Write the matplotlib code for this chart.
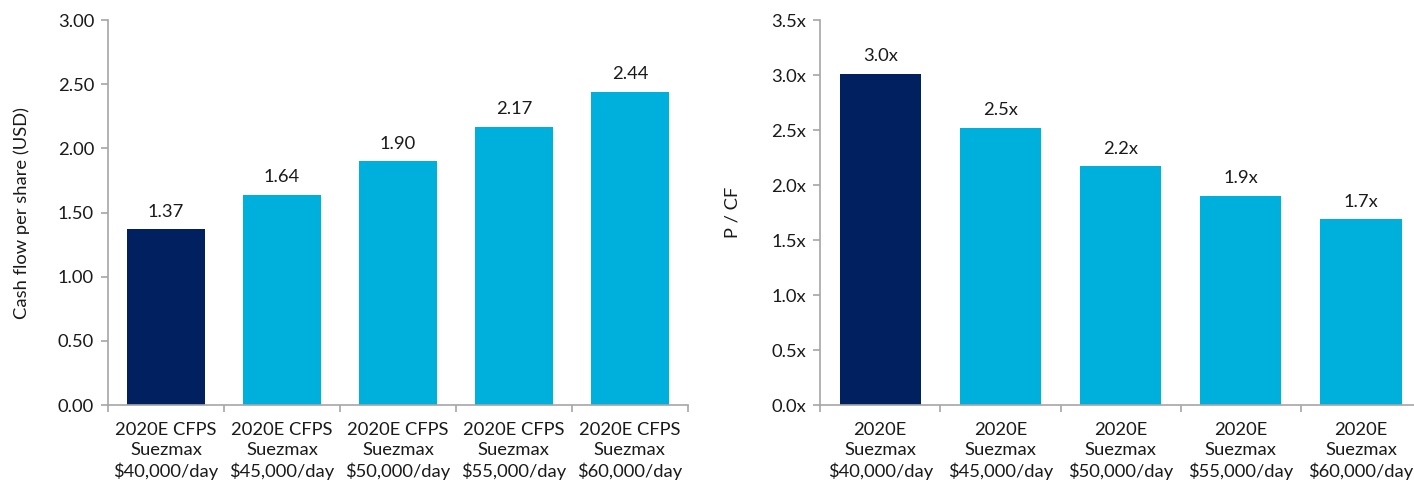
import matplotlib.pyplot as plt
import numpy as np

# CFPS sensitivity to Suezmax day rates
rates = ['$40,000/day', '$45,000/day', '$50,000/day', '$55,000/day', '$60,000/day']
cfps = [1.37, 1.64, 1.90, 2.17, 2.44]
p_cf = [3.01, 2.52, 2.17, 1.90, 1.69]

navy = '#002060'
cyan = '#00B0DC'
grey = '#A6A6A6'
colors = [navy] + [cyan] * 4

plt.rcParams['font.family'] = ['Lato', 'DejaVu Sans']
plt.rcParams['font.size'] = 13.2

fig = plt.figure(figsize=(14.14, 4.8), dpi=100)
ax1 = fig.add_axes([0.0764, 0.156, 0.410, 0.802])
ax2 = fig.add_axes([0.580, 0.156, 0.425, 0.802])

x = np.arange(len(rates))


def style(ax, labels):
    for s in ['top', 'right']:
        ax.spines[s].set_visible(False)
    for s in ['left', 'bottom']:
        ax.spines[s].set_color(grey)
        ax.spines[s].set_linewidth(1.2)
    ax.set_xlim(-0.5, len(labels) - 0.5)
    # category boundaries get the tick marks, names sit between them
    ax.set_xticks(np.arange(len(labels) + 1) - 0.5)
    ax.set_xticklabels([])
    ax.tick_params(axis='x', direction='out', length=5, color=grey, width=1.2)
    ax.tick_params(axis='y', direction='out', length=5, color=grey, width=1.2,
                   labelcolor='#1a1a1a', pad=5)
    ax.set_xticks(x, minor=True)
    ax.set_xticklabels(labels, minor=True, linespacing=1.3, color='#1a1a1a')
    ax.tick_params(axis='x', which='minor', length=0, pad=12)


# left: cash flow per share
ax1.bar(x, cfps, width=0.67, color=colors)
for xi, v in zip(x, cfps):
    ax1.annotate(f'{v:.2f}', (xi, v), xytext=(0, 7), textcoords='offset points',
                 ha='center', va='bottom', color='#1a1a1a')
ax1.set_ylim(0, 3.0)
ax1.set_yticks(np.arange(0, 3.01, 0.5))
ax1.set_yticklabels([f'{t:.2f}' for t in np.arange(0, 3.01, 0.5)])
style(ax1, [f'2020E CFPS\nSuezmax\n{r}' for r in rates])
ax1.set_ylabel('Cash flow per share (USD)', labelpad=20, color='#1a1a1a')

# right: price / cash flow multiple
ax2.bar(x, p_cf, width=0.675, color=colors)
for xi, v in zip(x, p_cf):
    ax2.annotate(f'{v:.1f}x', (xi, v), xytext=(0, 7), textcoords='offset points',
                 ha='center', va='bottom', color='#1a1a1a')
ax2.set_ylim(0, 3.5)
ax2.set_yticks(np.arange(0, 3.51, 0.5))
ax2.set_yticklabels([f'{t:.1f}x' for t in np.arange(0, 3.51, 0.5)])
style(ax2, [f'2020E\nSuezmax\n{r}' for r in rates])
ax2.set_ylabel('P / CF', labelpad=22, color='#1a1a1a')

fig.savefig('out.png', dpi=100)
